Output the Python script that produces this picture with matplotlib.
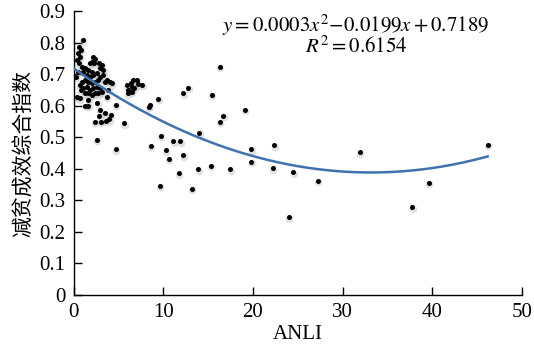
import matplotlib
matplotlib.use("Agg")
import matplotlib.pyplot as plt
import matplotlib.transforms as mtransforms
import numpy as np

plt.rcParams['font.family'] = ['Liberation Serif', 'DejaVu Serif']
plt.rcParams['mathtext.fontset'] = 'stix'

# ANLI values and composite poverty-reduction index
anli = [
    # dense cluster near origin
    0.99, 0.62, 0.77, 0.51, 0.69, 0.40, 0.58,
    2.18, 2.37, 1.99, 2.29, 1.81, 2.85, 3.11, 2.93, 3.30,
    0.88, 1.25, 1.06, 1.62, 1.99, 1.44, 1.81, 2.18, 2.56, 2.93, 3.30,
    3.67, 4.04, 4.23, 3.49, 2.74, 2.37, 1.99, 1.62, 1.25, 0.88,
    0.69, 1.06, 1.44, 1.81, 2.18, 2.56, 2.93, 3.11, 2.74, 2.37, 1.99,
    1.62, 1.25, 0.77, 0.69, 1.62, 3.67, 3.86, 0.25, 0.32, 0.51,
    1.26, 1.62, 2.60,
    # lower small group
    2.37, 3.00, 3.60, 3.97, 4.16, 3.49, 2.85, 2.93,
    # middle group
    5.90, 6.10, 6.00, 6.40, 6.50, 6.65, 7.05, 7.15, 7.65, 6.50, 6.75,
    # scattered points
    16.3, 12.8, 12.2, 15.4, 9.44, 8.5, 8.4, 19.1, 16.7, 16.3, 5.64, 4.7,
    14.0, 9.7, 2.56, 11.1, 11.9, 8.6, 4.7, 10.3, 19.8, 12.2, 10.6, 19.8,
    22.4, 22.2, 24.5, 24.0, 27.25, 31.9, 37.8, 39.65, 46.2,
    9.63, 11.7, 13.2, 13.9, 15.3, 17.45,
]
index = [
    0.810, 0.788, 0.778, 0.767, 0.757, 0.746, 0.735,
    0.757, 0.748, 0.741, 0.735, 0.735, 0.735, 0.730, 0.720, 0.714,
    0.725, 0.720, 0.709, 0.714, 0.709, 0.698, 0.693, 0.698, 0.704, 0.693, 0.698,
    0.683, 0.677, 0.672, 0.677, 0.683, 0.677, 0.672, 0.677, 0.683, 0.677,
    0.667, 0.656, 0.661, 0.651, 0.656, 0.661, 0.656, 0.645, 0.640, 0.640, 0.635,
    0.640, 0.640, 0.651, 0.624, 0.619, 0.630, 0.651, 0.693, 0.630, 0.709,
    0.600, 0.600, 0.610,
    0.550, 0.550, 0.553, 0.558, 0.571, 0.577, 0.568, 0.587,
    0.666, 0.651, 0.640, 0.672, 0.661, 0.683, 0.682, 0.669, 0.667, 0.645, 0.658,
    0.725, 0.658, 0.640, 0.636, 0.622, 0.603, 0.598, 0.587, 0.569, 0.550, 0.545, 0.603,
    0.515, 0.506, 0.492, 0.488, 0.488, 0.473, 0.462, 0.459, 0.463, 0.443, 0.433, 0.422,
    0.475, 0.402, 0.390, 0.247, 0.362, 0.453, 0.278, 0.357, 0.477,
    0.347, 0.386, 0.337, 0.399, 0.410, 0.399,
]

# quadratic trend coefficients as printed on the chart
coef_a, coef_b, coef_c = 0.0003, -0.0199, 0.7189
r_squared = 0.6154

x_ticks = [0, 10, 20, 30, 40, 50]
y_ticks = [0, 0.1, 0.2, 0.3, 0.4, 0.5, 0.6, 0.7, 0.8, 0.9]
y_tick_labels = ['0', '0.1', '0.2', '0.3', '0.4', '0.5', '0.6', '0.7', '0.8', '0.9']

fig = plt.figure(figsize=(5.34, 3.52), dpi=100)
ax = fig.add_axes([0.1382, 0.162, 0.8388, 0.8054])

# soft shadow under the dots
shadow = mtransforms.offset_copy(ax.transData, fig=fig, x=0.3, y=-1.0, units='points')
ax.scatter(anli, index, s=30, color='#888888', alpha=0.25, linewidths=0,
           transform=shadow, zorder=2)
ax.scatter(anli, index, s=13, color='black', linewidths=0, zorder=3)

xs = np.linspace(0, max(anli), 300)
ax.plot(xs, coef_a * xs**2 + coef_b * xs + coef_c, color='#3F72AE', lw=1.8, zorder=4)

ax.set_xlim(0, 50)
ax.set_ylim(0, 0.9)
ax.set_xticks(x_ticks)
ax.set_xticklabels([str(t) for t in x_ticks])
ax.set_yticks(y_ticks)
ax.set_yticklabels(y_tick_labels)
ax.tick_params(direction='in', length=6, width=1, labelsize=15, pad=6)
for s in ['top', 'right']:
    ax.spines[s].set_visible(False)
for s in ['left', 'bottom']:
    ax.spines[s].set_linewidth(1)

ax.set_xlabel('ANLI', fontsize=15, labelpad=2)
ax.set_ylabel('减贫成效综合指数', fontsize=15,
              family=['Noto Sans CJK SC', 'DejaVu Sans'], labelpad=4)

ax.text(31.5, 0.857, r'$y = 0.0003x^2 \!-\! 0.0199x + 0.7189$', fontsize=15,
        ha='center', va='center')
ax.text(31.5, 0.787, r'$R^2 = %.4f$' % r_squared, fontsize=15,
        ha='center', va='center')

fig.savefig('out.png', dpi=100)
